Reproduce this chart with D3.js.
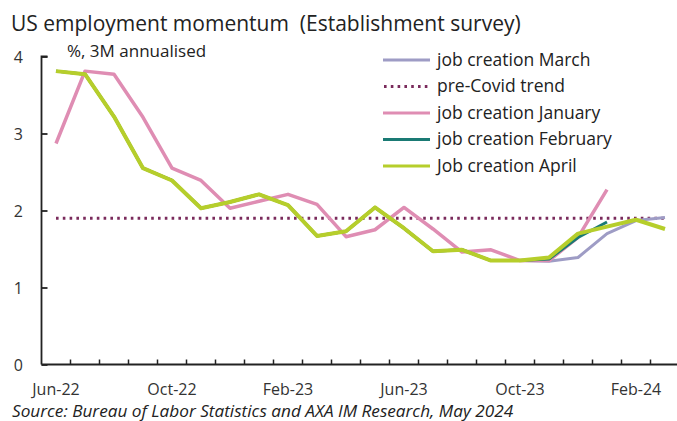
<!DOCTYPE html>
<html><head><meta charset="utf-8">
<script src="https://cdn.jsdelivr.net/npm/d3@7"></script>
<style>html,body{margin:0;padding:0;background:#fff;}svg{display:block;font-family:"Open Sans","Noto Sans",sans-serif;}</style>
</head><body>
<svg id="c" width="677" height="421"></svg>
<script>
const months = ["Jun-22","Jul-22","Aug-22","Sep-22","Oct-22","Nov-22","Dec-22","Jan-23","Feb-23","Mar-23","Apr-23","May-23","Jun-23","Jul-23","Aug-23","Sep-23","Oct-23","Nov-23","Dec-23","Jan-24","Feb-24","Mar-24","Apr-24"];
const tickLabels = ["Jun-22","Oct-22","Feb-23","Jun-23","Oct-23","Feb-24"];
const yTicks = [0,1,2,3,4];
const jobMarch    = [3.81,3.77,3.22,2.55,2.39,2.03,2.11,2.21,2.07,1.67,1.73,2.04,1.77,1.47,1.49,1.35,1.35,1.34,1.39,1.70,1.87,1.91];
const jobJanuary  = [2.87,3.81,3.77,3.21,2.55,2.39,2.03,2.12,2.21,2.08,1.66,1.75,2.04,1.76,1.46,1.49,1.35,1.35,1.65,2.27];
const jobFebruary = [3.81,3.77,3.22,2.55,2.39,2.03,2.11,2.21,2.07,1.67,1.73,2.04,1.77,1.47,1.49,1.35,1.35,1.37,1.65,1.85];
const jobApril    = [3.81,3.77,3.22,2.55,2.39,2.03,2.11,2.21,2.07,1.67,1.73,2.04,1.77,1.47,1.49,1.35,1.35,1.39,1.70,1.79,1.88,1.76];
const preCovidTrend = 1.9;
const trendSpan = ["Jun-22","Mar-24"];

const series = [
  {name:"job creation March", data:jobMarch, color:"#9e9cc5", width:3},
  {name:"pre-Covid trend", trend:true, color:"#7a2b5c", width:3},
  {name:"job creation January", data:jobJanuary, color:"#df8db3", width:3.5},
  {name:"job creation February", data:jobFebruary, color:"#1a7a74", width:3},
  {name:"Job creation April", data:jobApril, color:"#b6ce2b", width:4}
];

const svg = d3.select("#c");
const padL = 41.5, padB = 364.5, padT = 56.5;
const x = d3.scaleBand().domain(months).range([padL, padL + 29*months.length]);
const y = d3.scaleLinear().domain([0,4]).range([padB, padT]);
const cx = m => x(m) + x.bandwidth()/2;

// title
svg.append("text").attr("x",11).attr("y",31).attr("font-size",21).attr("fill","#222")
  .text("US employment momentum  (Establishment survey)").style("white-space","pre");
svg.append("text").attr("x",67).attr("y",57).attr("font-size",17).attr("fill","#222")
  .text("%, 3M annualised");

// trend
svg.append("line")
  .attr("x1",cx(trendSpan[0])).attr("x2",cx(trendSpan[1]))
  .attr("y1",y(preCovidTrend)).attr("y2",y(preCovidTrend))
  .attr("stroke",series[1].color).attr("stroke-width",3)
  .attr("stroke-dasharray","2.6,4.2");

// lines
const line = d3.line().x((d,i)=>cx(months[i])).y(d=>y(d));
series.forEach(s=>{
  if(s.trend) return;
  svg.append("path").datum(s.data).attr("d",line).attr("fill","none")
    .attr("stroke",s.color).attr("stroke-width",s.width).attr("stroke-linejoin","round");
});

// axes
const yAxis = d3.axisRight(y).tickValues(yTicks).tickSize(6).tickFormat("");
const ya = svg.append("g").attr("transform",`translate(${padL},0)`).call(yAxis);
ya.selectAll("line,path").attr("stroke","#222").attr("stroke-width",1.8);
ya.select(".domain").attr("d",`M6,${padT}H0V${padB}`);
yTicks.forEach(t=>{
  svg.append("text").attr("x",23).attr("y",y(t)+6).attr("text-anchor","end")
    .attr("font-size",16).attr("fill","#333").text(t);
});

const xa = svg.append("g").attr("transform",`translate(0,${padB})`);
xa.append("line").attr("x1",padL).attr("x2",677).attr("y1",0).attr("y2",0)
  .attr("stroke","#222").attr("stroke-width",1.8);
months.slice(1).forEach(m=>{
  xa.append("line").attr("x1",x(m)).attr("x2",x(m)).attr("y1",0).attr("y2",-5)
    .attr("stroke","#222").attr("stroke-width",1.5);
});
tickLabels.forEach(m=>{
  svg.append("text").attr("x",cx(m)).attr("y",395).attr("text-anchor","middle")
    .attr("font-size",16).attr("fill","#333").text(m);
});

// legend
series.forEach((s,i)=>{
  const ly = 60 + i*26.5;
  const l = svg.append("line").attr("x1",383).attr("x2",430).attr("y1",ly).attr("y2",ly)
    .attr("stroke",s.color).attr("stroke-width",3);
  if(s.trend) l.attr("stroke-dasharray","2.6,4.2").attr("x1",384);
  svg.append("text").attr("x",437).attr("y",ly+5.5).attr("font-size",17.5).attr("fill","#222").text(s.name);
});

// source
svg.append("text").attr("x",12).attr("y",417).attr("font-size",17.2).attr("font-style","italic")
  .attr("fill","#222").text("Source: Bureau of Labor Statistics and AXA IM Research, May 2024");
</script>
</body></html>
